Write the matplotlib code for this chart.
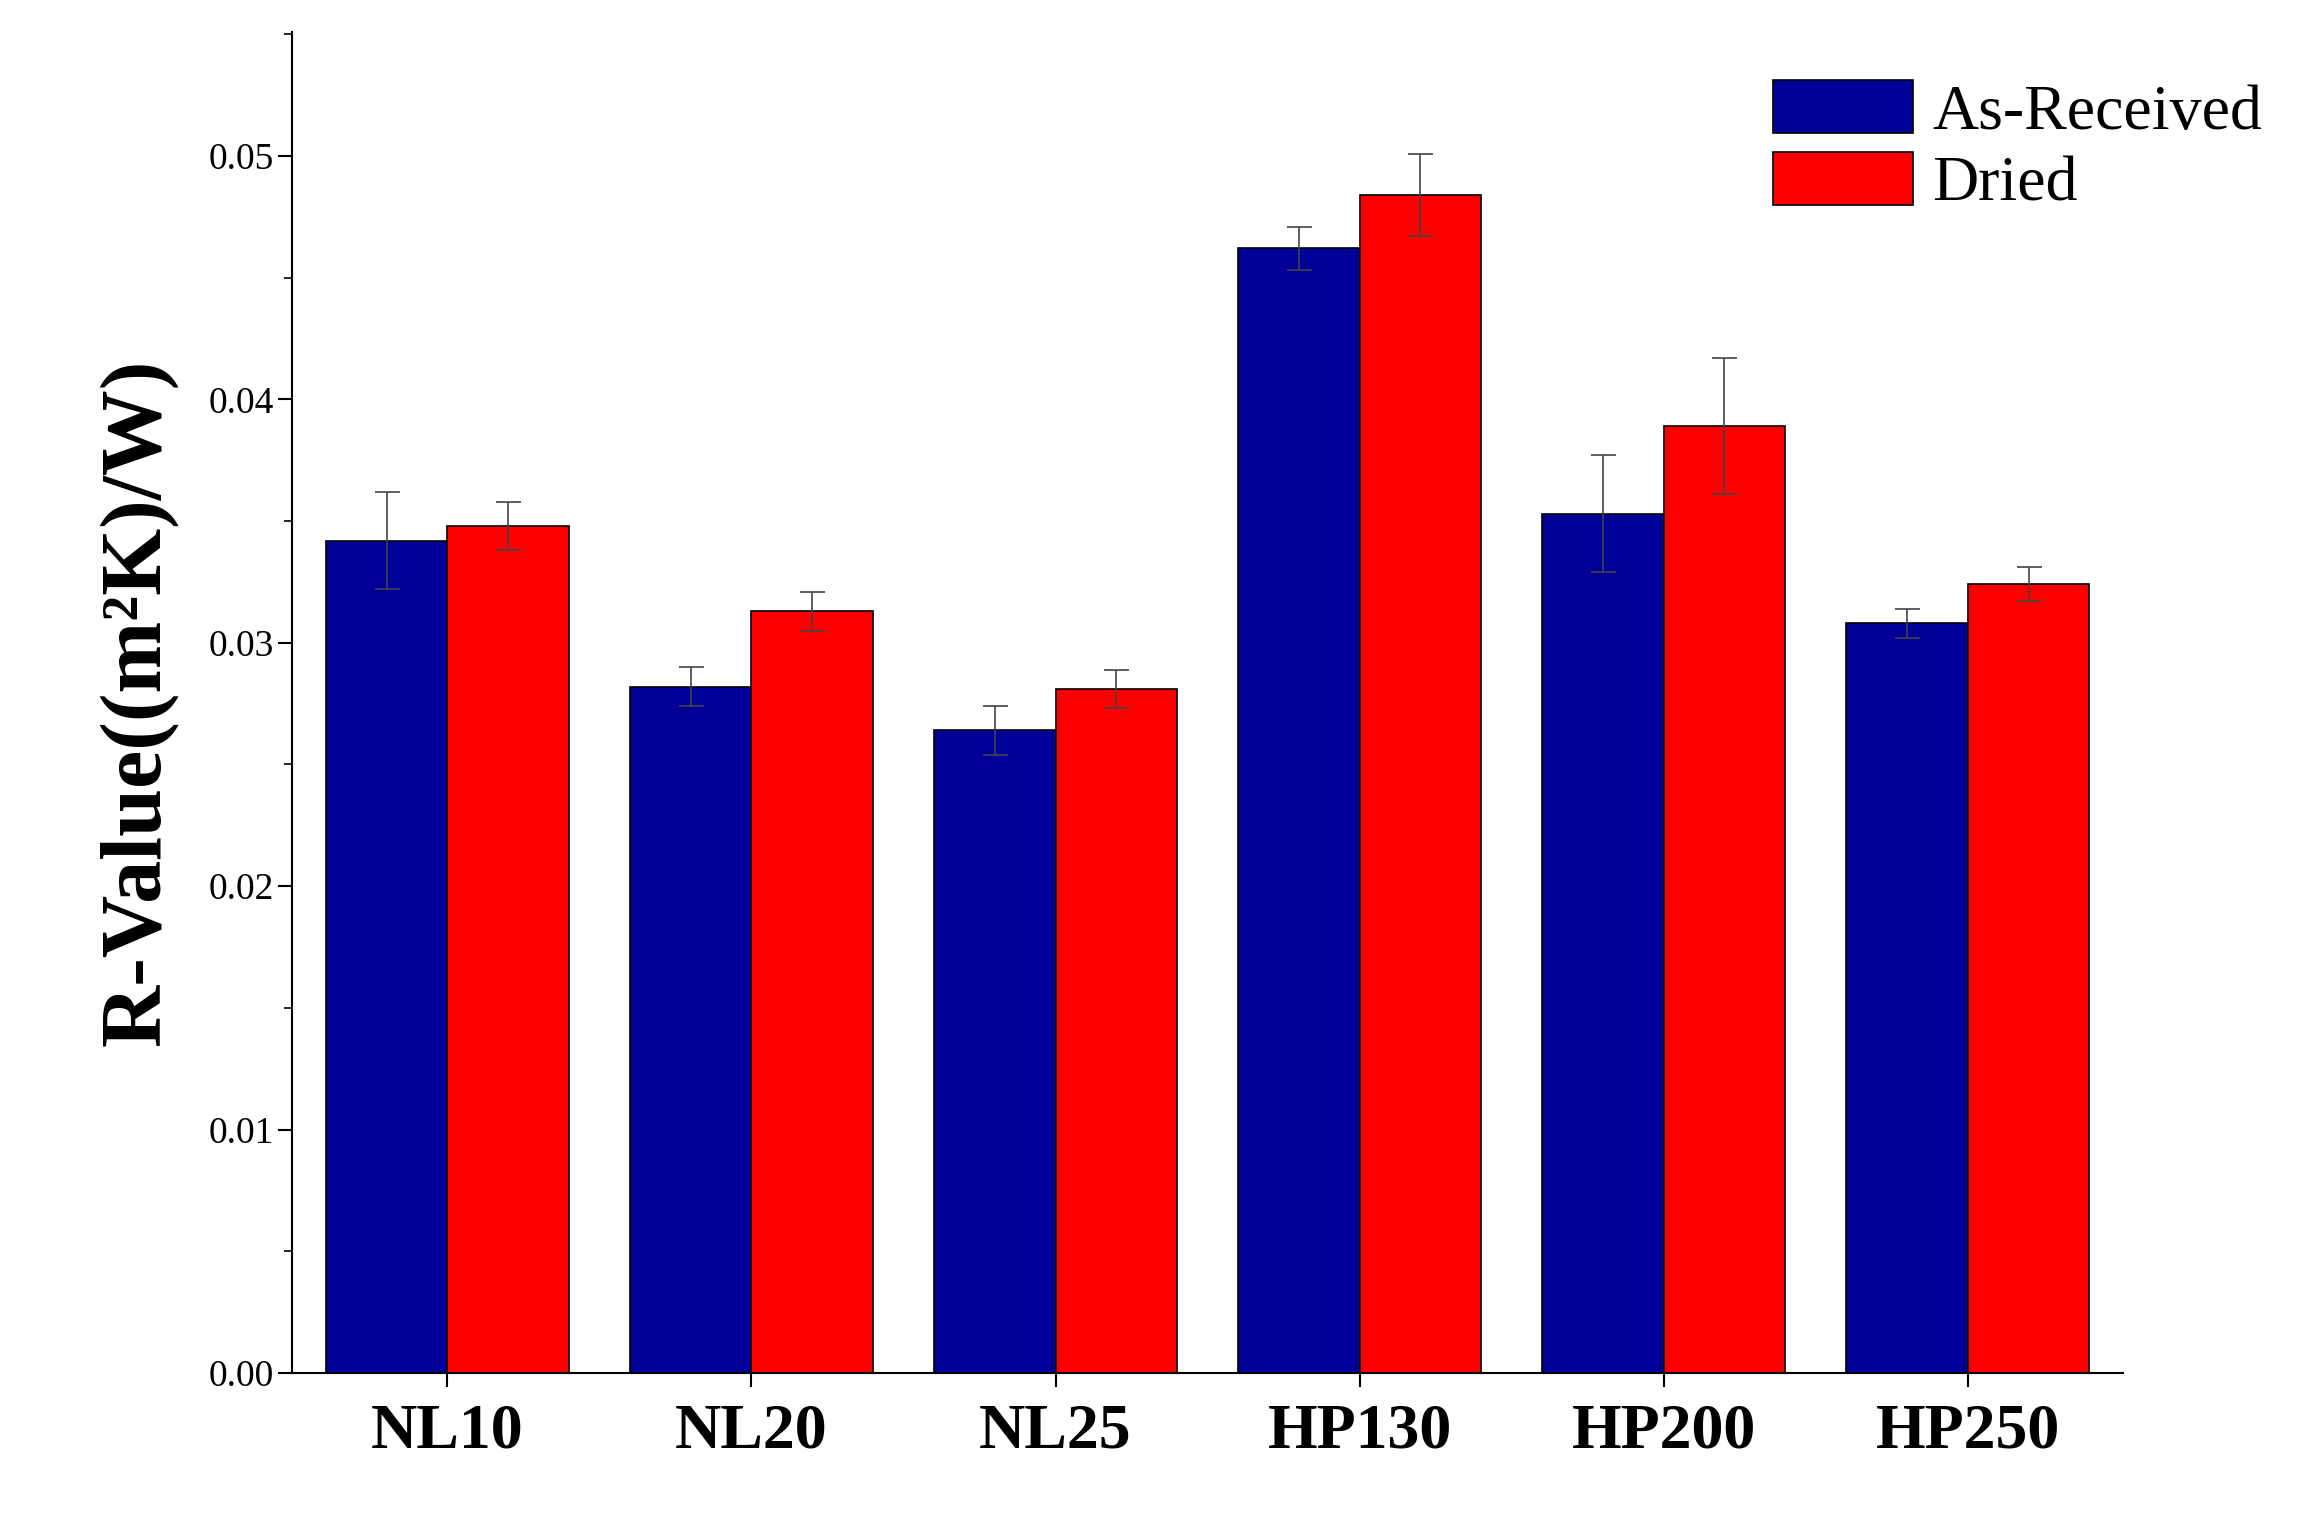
import matplotlib
matplotlib.use("Agg")
import matplotlib.pyplot as plt
import numpy as np
from matplotlib.ticker import MultipleLocator

samples = ["NL10", "NL20", "NL25", "HP130", "HP200", "HP250"]
as_received = [0.0342, 0.0282, 0.0264, 0.0462, 0.0353, 0.0308]
as_received_err = [0.0020, 0.0008, 0.0010, 0.0009, 0.0024, 0.0006]
dried = [0.0348, 0.0313, 0.0281, 0.0484, 0.0389, 0.0324]
dried_err = [0.0010, 0.0008, 0.0008, 0.0017, 0.0028, 0.0007]

plt.rcParams["font.family"] = "Liberation Serif"
fig = plt.figure(figsize=(23.2, 15.17), dpi=100)
ax = fig.add_axes([0.126, 0.095, 0.789, 0.884])

x = np.arange(len(samples))
w = 0.4
ekw = dict(ecolor="#444444", elinewidth=1.2, capsize=9, capthick=1.2)
ax.bar(x - w / 2, as_received, w, yerr=as_received_err, color="#000099",
       edgecolor="black", linewidth=1.2, label="As-Received", error_kw=ekw)
ax.bar(x + w / 2, dried, w, yerr=dried_err, color="#ff0000",
       edgecolor="black", linewidth=1.2, label="Dried", error_kw=ekw)

ax.set_xlim(-0.51, 5.51)
ax.set_ylim(0, 0.0551)
ax.yaxis.set_major_locator(MultipleLocator(0.01))
ax.yaxis.set_minor_locator(MultipleLocator(0.005))
ax.yaxis.set_major_formatter(plt.FuncFormatter(lambda v, p: f"{v:.2f}"))
ax.set_xticks(x)
ax.set_xticklabels(samples, fontsize=46, fontweight="bold")
ax.tick_params(axis="y", labelsize=27, length=10, width=1.5, direction="out")
ax.tick_params(axis="y", which="minor", length=6, width=1.2)
ax.tick_params(axis="x", length=10, width=1.5, pad=12)
for s in ["top", "right"]:
    ax.spines[s].set_visible(False)
for s in ["left", "bottom"]:
    ax.spines[s].set_linewidth(1.5)
ax.set_ylabel("R-Value((m²K)/W)", fontsize=62, fontweight="bold", labelpad=22)

fig.legend(*ax.get_legend_handles_labels(), loc="upper right",
           bbox_to_anchor=(1.0, 0.985), fontsize=46, frameon=False,
           handlelength=2.2, handleheight=0.9, handletextpad=0.3, labelspacing=0.15)

fig.savefig("out.png", dpi=100)
